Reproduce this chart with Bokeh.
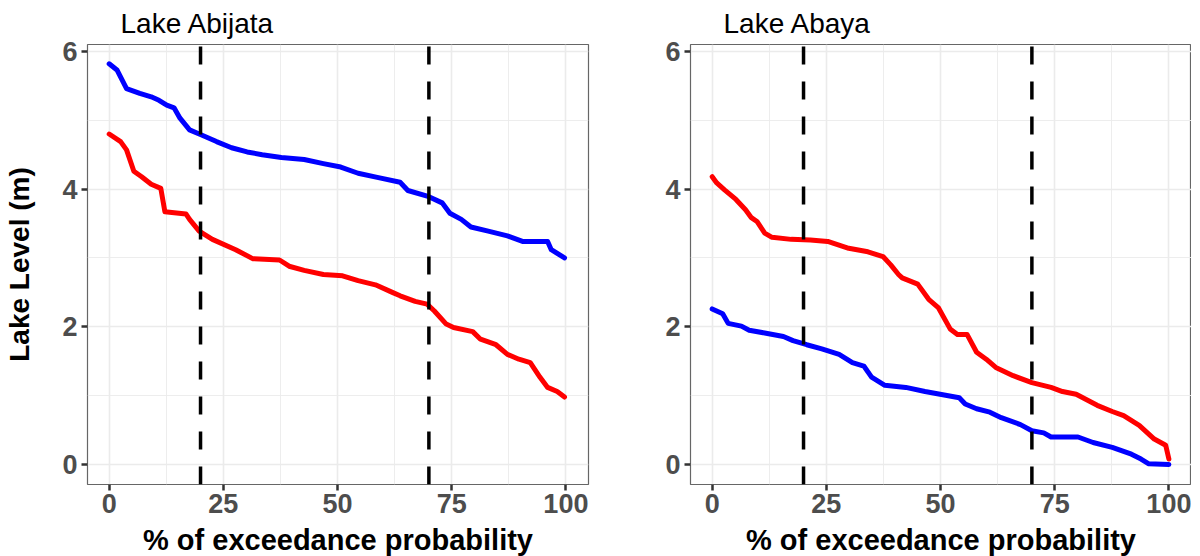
from bokeh.plotting import figure
from bokeh.layouts import row
from bokeh.models import Range1d, FixedTicker
from bokeh.embed import file_html
from bokeh.resources import INLINE

# ---------------- data ----------------
panel_titles = ["Lake Abijata", "Lake Abaya"]
threshold_pct = [20, 70]
x_ticks = [0, 25, 50, 75, 100]
x_minor = [12.5, 37.5, 62.5, 87.5]
y_ticks = [0, 2, 4, 6]
y_minor = [1, 3, 5]

abijata_blue_x = [0, 1.7, 3.8, 6.7, 9.2, 10.9, 12.6, 14.2, 15.5, 17.6, 20.1, 23.5, 26.8, 30.2, 33.5,
                  37.7, 42.7, 46.9, 50.7, 54.5, 58.7, 63.7, 65.4, 70.0, 72.9, 74.6, 77.1, 79.2, 83.0,
                  87.2, 90.5, 96.0, 96.8, 99.7]
abijata_blue_y = [5.82, 5.73, 5.46, 5.39, 5.34, 5.29, 5.22, 5.18, 5.03, 4.86, 4.79, 4.69, 4.60, 4.54, 4.50,
                  4.46, 4.43, 4.37, 4.32, 4.23, 4.17, 4.10, 3.98, 3.89, 3.80, 3.65, 3.56, 3.45, 3.39,
                  3.32, 3.24, 3.24, 3.12, 3.00]

abijata_red_x = [0, 2.5, 3.8, 5.4, 7.1, 9.2, 11.3, 12.2, 16.8, 17.6, 19.7, 22.6, 27.7, 31.4, 37.3, 39.4,
                 42.7, 46.9, 51.1, 54.5, 58.3, 62.0, 63.7, 67.0, 69.6, 71.2, 73.8, 75.4, 79.6, 81.3,
                 84.7, 87.2, 89.7, 92.2, 94.3, 96.0, 98.1, 99.7]
abijata_red_y = [4.80, 4.69, 4.57, 4.26, 4.18, 4.07, 4.01, 3.67, 3.64, 3.56, 3.39, 3.27, 3.12, 2.99, 2.97, 2.88,
                 2.82, 2.76, 2.74, 2.67, 2.61, 2.50, 2.45, 2.37, 2.33, 2.23, 2.04, 1.99, 1.93, 1.82,
                 1.74, 1.60, 1.53, 1.48, 1.27, 1.12, 1.06, 0.98]

abaya_red_x = [0, 1.0, 2.7, 5.2, 7.3, 8.5, 9.8, 11.5, 13.1, 17.3, 21.5, 25.3, 29.9, 34.1, 37.4, 39.1,
               40.8, 41.6, 45.0, 47.4, 49.5, 52.1, 53.7, 55.8, 57.9, 60.0, 62.1, 65.9, 70.0, 74.2,
               76.7, 79.7, 84.3, 87.6, 90.1, 93.5, 96.8, 99.3, 100]
abaya_red_y = [4.18, 4.09, 3.99, 3.85, 3.70, 3.59, 3.53, 3.36, 3.30, 3.27, 3.26, 3.24, 3.14, 3.09, 3.02, 2.90,
               2.76, 2.71, 2.62, 2.40, 2.28, 1.97, 1.89, 1.89, 1.63, 1.53, 1.41, 1.29, 1.19, 1.12,
               1.06, 1.02, 0.86, 0.77, 0.71, 0.57, 0.37, 0.28, 0.08]

abaya_blue_x = [0, 2.3, 3.5, 6.4, 8.1, 11.5, 15.6, 17.7, 20.7, 24.0, 27.8, 30.7, 33.2, 34.9, 37.8, 42.4,
                46.6, 50.8, 54.1, 55.4, 57.9, 60.8, 63.3, 67.5, 70.0, 72.6, 74.2, 80.1, 83.4, 87.6,
                91.8, 93.9, 95.6, 100]
abaya_blue_y = [2.26, 2.19, 2.05, 2.01, 1.95, 1.91, 1.86, 1.80, 1.74, 1.68, 1.60, 1.48, 1.43, 1.27, 1.15, 1.12,
                1.06, 1.01, 0.97, 0.88, 0.81, 0.76, 0.68, 0.58, 0.49, 0.46, 0.40, 0.40, 0.32, 0.25,
                0.15, 0.08, 0.01, 0.0]

series = [
    [(abijata_blue_x, abijata_blue_y, "#0000FF"), (abijata_red_x, abijata_red_y, "#FF0000")],
    [(abaya_red_x, abaya_red_y, "#FF0000"), (abaya_blue_x, abaya_blue_y, "#0000FF")],
]

X_RANGE = (-4.75, 104.95)
Y_RANGE = (-0.29, 6.10)
FONT = "Liberation Sans"


def make_panel(i):
    left_border = 87 if i == 0 else 94
    right_border = 8 if i == 0 else 0
    p = figure(frame_width=501, frame_height=440,
               x_range=Range1d(*X_RANGE), y_range=Range1d(*Y_RANGE),
               output_backend="svg", toolbar_location=None,
               min_border_left=left_border, min_border_right=right_border,
               min_border_top=43, min_border_bottom=57,
               background_fill_color="white", border_fill_color="white")
    p.title.text = panel_titles[i]
    p.title.text_font = FONT
    p.title.text_font_size = "28px"
    p.title.text_line_height = 0.9
    p.title.text_font_style = "normal"
    p.title.text_color = "black"
    p.title.align = "left"
    p.title.offset = 33
    p.title.standoff = 11

    p.outline_line_color = "#666666"
    p.outline_line_width = 1.2

    p.xaxis.ticker = FixedTicker(ticks=x_ticks, minor_ticks=x_minor)
    p.yaxis.ticker = FixedTicker(ticks=y_ticks, minor_ticks=y_minor)
    for ax in (p.xaxis, p.yaxis):
        ax.axis_line_color = None
        ax.major_tick_out = 6
        ax.major_tick_in = 0
        ax.major_tick_line_color = "#333333"
        ax.major_tick_line_width = 2.5
        ax.minor_tick_line_color = None
        ax.major_label_text_font = FONT
        ax.major_label_text_font_size = "27px"
        ax.major_label_text_font_style = "bold"
        ax.major_label_text_color = "#4D4D4D"
        ax.major_label_standoff = 4
        ax.axis_label_text_font = FONT
        ax.axis_label_text_font_style = "bold"
        ax.axis_label_text_color = "black"
    p.xaxis.major_label_standoff = 3
    p.xaxis.axis_label = "% of exceedance probability"
    p.xaxis.axis_label_text_font_size = "29px"
    p.xaxis.axis_label_standoff = 8
    if i == 0:
        p.yaxis.axis_label = "Lake Level (m)"
        p.yaxis.axis_label_text_font_size = "28px"
        p.yaxis.axis_label_standoff = 24

    for g in (p.xgrid, p.ygrid):
        g.grid_line_color = "#EBEBEB"
        g.grid_line_width = 1.6
        g.minor_grid_line_color = "#EBEBEB"
        g.minor_grid_line_width = 0.9

    for sx, sy, col in series[i]:
        p.line(sx, sy, line_color=col, line_width=5, line_join="round", line_cap="round")

    n = len(threshold_pct)
    p.segment(x0=threshold_pct, y0=[Y_RANGE[0]] * n, x1=threshold_pct, y1=[Y_RANGE[1]] * n,
              line_color="black", line_width=3.5, line_dash="18 17")
    return p


layout = row(make_panel(0), make_panel(1))
open("out.html", "w").write(file_html(layout, INLINE))
